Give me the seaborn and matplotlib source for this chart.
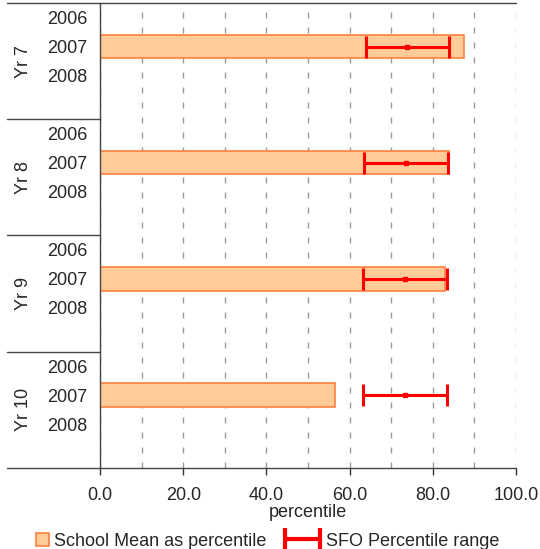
import pandas as pd
import matplotlib
matplotlib.use("Agg")
import matplotlib.pyplot as plt
import seaborn as sns
from matplotlib.patches import Rectangle
from matplotlib.container import ErrorbarContainer
from matplotlib.legend_handler import HandlerPatch, HandlerErrorbar
import matplotlib.transforms as mtransforms

# Data (only 2007 has values)
groups = ["Yr 7", "Yr 8", "Yr 9", "Yr 10"]
years = ["2006", "2007", "2008"]
school_mean = [87.5, 84.0, 82.9, 56.4]
sfo_low = [63.9, 63.4, 63.3, 63.3]
sfo_mid = [73.8, 73.5, 73.2, 73.2]
sfo_high = [83.9, 83.6, 83.4, 83.4]

FILL = "#FFCC99"
EDGE = "#FF8040"

# Build the slot list: 3 years + 1 blank per group
slots, slot_labels = [], []
for g in groups:
    for y in years + [""]:
        slots.append(g + "|" + (y if y else "blank"))
        slot_labels.append(y)

df = pd.DataFrame({
    "slot": [g + "|2007" for g in groups],
    "value": school_mean,
})

sns.set_style("white")
plt.rcParams["font.family"] = ["Liberation Sans", "DejaVu Sans"]
plt.rcParams["font.size"] = 13

fig = plt.figure(figsize=(5.4, 5.49), dpi=100)
ax = fig.add_axes([0.1852, 0.1481, 0.7704, 0.8464])

sns.barplot(data=df, x="value", y="slot", order=slots, orient="h",
            color=FILL, edgecolor=EDGE, linewidth=1.2,
            saturation=1, width=0.8, errorbar=None, ax=ax)

pos = [slots.index(g + "|2007") for g in groups]
err_lo = [m - l for m, l in zip(sfo_mid, sfo_low)]
err_hi = [h - m for m, h in zip(sfo_mid, sfo_high)]
ax.errorbar(sfo_mid, pos, xerr=[err_lo, err_hi], fmt="s", color="red",
            ms=3, elinewidth=2.2, capsize=8, capthick=2.2, zorder=5)
# legend-only handle (no centre marker), drawn outside the visible range
eb_leg = ax.errorbar([-50], [0], xerr=[[5], [5]], fmt="none", ecolor="red",
                     elinewidth=3, capsize=8, capthick=3)

ax.set_xlim(0, 100)
ax.set_ylim(len(slots) - 0.5, -0.5)
ax.set_xticks(range(0, 101, 20))
ax.set_xticklabels([f"{v:.1f}" for v in range(0, 101, 20)])
ax.set_xticks(range(10, 101, 10), minor=True)
ax.set_yticks(range(len(slots)))
ax.set_yticklabels(slot_labels)
ax.tick_params(axis="y", length=0, pad=9, labelsize=13)
ax.tick_params(axis="x", which="major", direction="out", length=5,
               width=1, color="#333333", pad=9, labelsize=13, bottom=True)
ax.tick_params(axis="x", which="minor", length=0)
ax.xaxis.grid(True, which="both", color="#999999", linewidth=1,
              linestyle=(0, (4.3, 6.5)))
ax.yaxis.grid(False)
ax.set_axisbelow(True)
ax.set_xlabel("percentile", fontsize=13, labelpad=0)
ax.set_ylabel("")

for side in ["top", "right", "bottom"]:
    ax.spines[side].set_visible(False)
ax.spines["left"].set_color("#444444")
ax.spines["left"].set_linewidth(1)

# Group separators and outer lines extending into the label area
trans = mtransforms.blended_transform_factory(ax.transAxes, ax.transData)
for k in range(1, len(groups)):
    yv = 4 * k - 0.5
    ax.plot([-0.224, 0], [yv, yv], color="#444444", lw=1,
            transform=trans, clip_on=False)
for yv in [-0.5, len(slots) - 0.5]:
    ax.plot([-0.224, 1.0], [yv, yv], color="#444444", lw=1,
            transform=trans, clip_on=False)

for i, g in enumerate(groups):
    ax.text(-0.185, 4 * i + 1.5, g, rotation=90, ha="center", va="center",
            fontsize=13, transform=trans)


def small_square(legend, orig_handle, xdescent, ydescent, width, height, fontsize):
    s = 9
    return Rectangle((width - s - xdescent, (height - s) / 2 - ydescent), s, s)


mean_handle = Rectangle((0, 0), 1, 1, facecolor=FILL, edgecolor=EDGE, linewidth=1.2)
fig.legend([mean_handle, eb_leg], ["School Mean as percentile", "SFO Percentile range"],
           loc="center", bbox_to_anchor=(0.474, 0.014), ncol=2, frameon=False,
           fontsize=13, handlelength=2.0, handletextpad=0.3, columnspacing=1.0,
           handler_map={Rectangle: HandlerPatch(patch_func=small_square),
                        ErrorbarContainer: HandlerErrorbar(xerr_size=0.95)})

fig.savefig("out.png", dpi=100)
